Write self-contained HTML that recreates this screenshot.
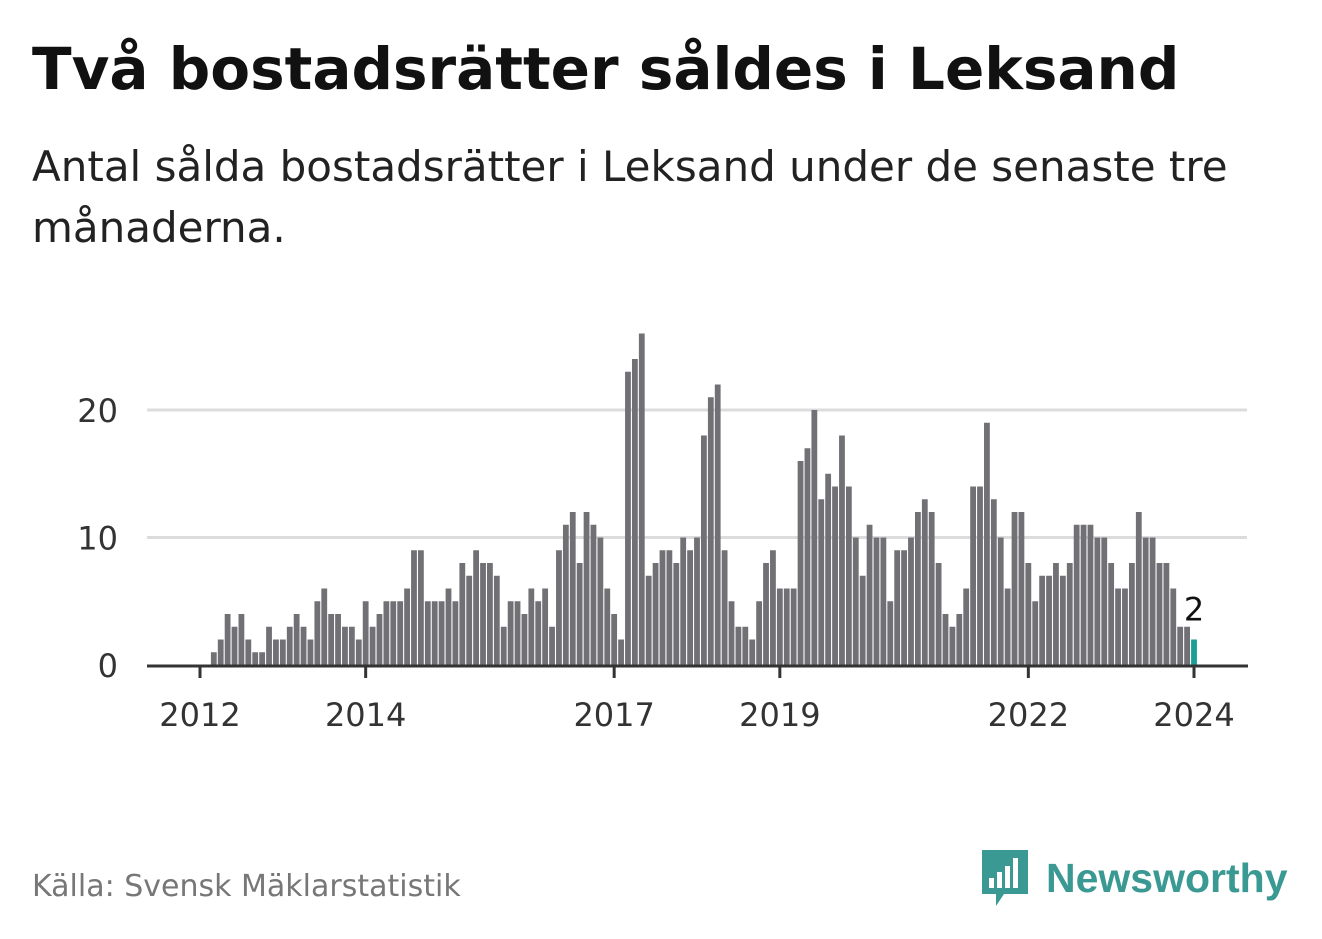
<!DOCTYPE html>
<html><head><meta charset="utf-8"><style>
body{margin:0;width:1322px;height:939px;background:#fff;overflow:hidden;font-family:"DejaVu Sans","Liberation Sans",sans-serif;}
#title{position:absolute;left:32px;top:35px;font-size:58px;font-weight:bold;color:#111;margin:0;white-space:nowrap}
#sub{position:absolute;left:32px;top:136px;font-size:42px;color:#222;line-height:61px;width:1270px}
#src{position:absolute;left:32px;top:869px;font-size:30px;color:#777}
#logo{position:absolute;left:980px;top:848px;display:flex;align-items:center}
#logo span{font-size:41px;font-weight:bold;color:#3a9a93;margin-left:16px;font-family:"Liberation Sans",sans-serif}
</style></head><body>
<h1 id="title">Två bostadsrätter såldes i Leksand</h1>
<div id="sub">Antal sålda bostadsrätter i Leksand under de senaste tre månaderna.</div>
<svg id="chart" width="1322" height="939" style="position:absolute;left:0;top:0"></svg>
<div id="src">Källa: Svensk Mäklarstatistik</div>
<div id="logo">
<svg width="50" height="60"><path d="M2 2h46v44H24l-8 12v-12H2z" fill="#3a9a93"/><rect x="9" y="30" width="5" height="10" fill="#fff"/><rect x="17" y="24" width="5" height="16" fill="#fff"/><rect x="25" y="18" width="5" height="22" fill="#fff"/><rect x="33" y="10" width="5" height="30" fill="#fff"/></svg>
<span>Newsworthy</span></div>
<script>
const startIndex = 2; // months since Jan 2012
const values = [1,2,4,3,4,2,1,1,3,2,
2,3,4,3,2,5,6,4,4,3,3,2,
5,3,4,5,5,5,6,9,9,5,5,5,
6,5,8,7,9,8,8,7,3,5,5,4,
6,5,6,3,9,11,12,8,12,11,10,6,
4,2,23,24,26,7,8,9,9,8,10,9,
10,18,21,22,9,5,3,3,2,5,8,9,
6,6,6,16,17,20,13,15,14,18,14,10,
7,11,10,10,5,9,9,10,12,13,12,8,
4,3,4,6,14,14,19,13,10,6,12,12,
8,5,7,7,8,7,8,11,11,11,10,10,
8,6,6,8,12,10,10,8,8,6,3,3,
2];
const yTicks = [0,10,20];
const xTickYears = [2012,2014,2017,2019,2022,2024];
const NS="http://www.w3.org/2000/svg";
const svg=document.getElementById('chart');
const x0=200, x1=1194, y0=665, y20=410;
const xm = m => x0 + m*(x1-x0)/144;
const y = v => y0 - v*(y0-y20)/20;
const FF='DejaVu Sans, Liberation Sans, sans-serif';
function mk(t,a){const e=document.createElementNS(NS,t);for(const k in a)e.setAttribute(k,a[k]);svg.appendChild(e);return e;}
yTicks.forEach(v=>{
  if(v>0){const g=mk('line',{x1:147,x2:1247,y1:y(v),y2:y(v),stroke:'#dcdcdc','stroke-width':3});
  
  }
  const t=mk('text',{x:118,y:y(v)+12,'text-anchor':'end','font-size':32,fill:'#333','font-family':FF});
  t.textContent=v;
  
  
});
values.forEach((v,i)=>{
  const m=startIndex+i, last=i===values.length-1;
  const r=mk('rect',{x:xm(m)-2.9,y:y(v),width:5.8,height:y0-y(v),fill:last?'#1a9e96':'#707075'});
  
  
  if(last){const t=mk('text',{x:xm(m)+0,y:y(v)-19,'text-anchor':'middle','font-size':32,fill:'#111','font-family':FF});
  t.textContent=v;
  
  }
});
const ax=mk('line',{x1:147,x2:1248,y1:y0+1,y2:y0+1,stroke:'#333','stroke-width':3});


xTickYears.forEach(yr=>{
  const xx=xm((yr-2012)*12);
  const l=mk('line',{x1:xx,x2:xx,y1:y0,y2:y0+13,stroke:'#333','stroke-width':3});
  
  
  const t=mk('text',{x:xx,y:726,'text-anchor':'middle','font-size':32,fill:'#333','font-family':FF});
  t.textContent=yr;
  
  
});
</script>
</body></html>
